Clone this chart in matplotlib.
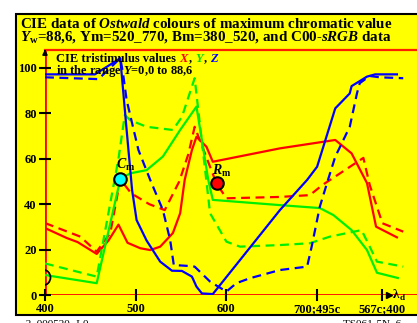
import matplotlib
matplotlib.use('Agg')
import matplotlib.pyplot as plt
from matplotlib.patches import Rectangle

W, H = 417, 323
plt.rcParams['mathtext.fontset'] = 'custom'
plt.rcParams['mathtext.rm'] = 'Liberation Serif:bold'
plt.rcParams['mathtext.it'] = 'Liberation Serif:italic:bold'
plt.rcParams['mathtext.bf'] = 'Liberation Serif:bold'
plt.rcParams['font.family'] = ['Liberation Serif', 'DejaVu Serif']
plt.rcParams['font.weight'] = 'bold'

# ---------------- data ----------------
x_tick_vals = [400, 500, 600, 700, 772]
x_tick_labels = ['400', '500', '600', '700;495c', '567c;400']
y_tick_vals = [0, 20, 40, 60, 80, 100]

X_solid_wl = [400, 424, 436, 457, 470, 481, 491, 505, 516, 527, 541, 549, 554, 562, 567, 578, 585, 659, 720, 738, 755, 765, 788]
X_solid_val = [29.5, 25.1, 23.3, 18.1, 24.0, 31.0, 23.0, 20.6, 19.8, 21.3, 27.3, 36.0, 50.7, 63.9, 69.7, 65.3, 58.7, 64.6, 68.3, 62.4, 49.3, 30.1, 25.4]

X_dash_wl = [400, 439, 457, 472, 483, 495, 515, 532, 548, 558, 565, 589, 600, 659, 692, 706, 751, 758, 772, 795]
X_dash_val = [31.7, 25.7, 19.1, 27.3, 51.0, 44.8, 40.0, 37.4, 50.0, 62.0, 74.1, 49.2, 42.6, 43.2, 44.0, 48.5, 60.4, 48.5, 31.6, 27.9]

Y_solid_wl = [400, 457, 483, 494, 512, 530, 549, 567, 580, 585, 659, 703, 718, 738, 755, 766, 789]
Y_solid_val = [8.8, 5.2, 51.0, 53.6, 55.0, 61.0, 72.7, 83.0, 50.7, 41.9, 39.6, 38.3, 35.2, 28.6, 19.8, 9.8, 7.5]

Y_dash_wl = [400, 457, 481, 488, 494, 512, 541, 551, 565, 582, 600, 615, 659, 692, 714, 749, 758, 766, 795]
Y_dash_val = [13.9, 8.1, 60.0, 79.3, 77.0, 74.1, 72.7, 78.5, 95.5, 36.0, 23.5, 21.3, 22.0, 22.8, 25.7, 28.6, 21.3, 14.7, 12.5]

Z_solid_wl = [400, 455, 483, 490, 496, 501, 512, 527, 540, 551, 562, 567, 573, 585, 659, 689, 700, 720, 736, 738, 755, 764, 788]
Z_solid_val = [97.2, 97.2, 104.3, 72.7, 46.3, 33.0, 24.0, 14.7, 10.7, 10.6, 8.1, 3.7, 0.7, 0.4, 37.4, 50.7, 56.5, 82.2, 88.8, 92.0, 96.2, 97.2, 97.2]

Z_dash_wl = [400, 459, 483, 486, 490, 503, 516, 530, 538, 542, 558, 565, 582, 600, 611, 626, 659, 689, 694, 703, 712, 720, 736, 744, 747, 758, 769, 795]
Z_dash_val = [95.9, 95.1, 104.3, 97.7, 85.9, 63.9, 50.7, 37.4, 24.2, 13.2, 12.8, 12.5, 5.9, 1.5, 5.2, 7.4, 11.0, 12.5, 21.3, 38.9, 50.7, 60.9, 74.1, 88.9, 93.3, 96.5, 95.9, 95.5]

Cm_point = (482.7, 51.0)
Rm_point = (589.3, 49.2)
E_point = (396.7, 8.1)

# ---------------- figure ----------------
fig = plt.figure(figsize=(W / 100, H / 100), dpi=100)
fig.patch.set_facecolor('white')
fig.add_artist(Rectangle((16 / W, 1 - 315 / H), (W + 10 - 16) / W, (315 - 14) / H,
                         transform=fig.transFigure, facecolor='#ffff00',
                         edgecolor='black', linewidth=1.5, zorder=0))

ax = fig.add_axes([45 / W, 1 - 295 / H, (W - 45) / W, (295 - 50) / H])
ax.patch.set_alpha(0)
xmax = 400 + 372 / 0.907
ymax = 245 / 2.27
ax.set_xlim(400, xmax)
ax.set_ylim(0, ymax)
for s in ax.spines.values():
    s.set_visible(False)

RED, GREEN, BLUE = '#ff0000', '#00ee00', '#0000ff'
lw = 1.6
dash = (4, 2.5)
ax.axhline(0, color=RED, lw=2, zorder=1)
ax.axvline(400, color=RED, lw=2, zorder=1)
ax.axhline(ymax, color='#ff2000', lw=1.6, zorder=1, clip_on=False)

ax.plot(X_dash_wl, X_dash_val, color=RED, lw=lw, dashes=dash)
ax.plot(X_solid_wl, X_solid_val, color=RED, lw=lw)
ax.plot(Y_dash_wl, Y_dash_val, color=GREEN, lw=lw, dashes=dash)
ax.plot(Y_solid_wl, Y_solid_val, color=GREEN, lw=lw)
ax.plot(Z_dash_wl, Z_dash_val, color=BLUE, lw=lw, dashes=dash)
ax.plot(Z_solid_wl, Z_solid_val, color=BLUE, lw=lw)

ax.plot(*Cm_point, 'o', ms=9, mfc='#00ffff', mec='black', mew=1.5, zorder=5)
ax.plot(*Rm_point, 'o', ms=9, mfc=RED, mec='black', mew=1.5, zorder=5)
ax.plot(*E_point, 'o', ms=11.5, mfc='none', mec='black', mew=1.3, zorder=5)

ax.text(478.5, 55.5, r'$C_\mathrm{m}$', fontsize=10, ha='left', va='baseline', zorder=6)
ax.text(584.5, 53.0, r'$R_\mathrm{m}$', fontsize=10, ha='left', va='baseline', zorder=6)

ax.set_xticks(x_tick_vals)
ax.set_xticklabels(x_tick_labels)
ax.set_yticks(y_tick_vals)
ax.tick_params(direction='inout', length=8, width=1.5, color='black', labelsize=9, pad=2)
for lab in ax.get_xticklabels() + ax.get_yticklabels():
    lab.set_fontweight('bold')

# axis arrows
ax.annotate('', xy=(400, ymax + 1.5), xytext=(400, ymax - 2), annotation_clip=False,
            arrowprops=dict(arrowstyle='-|>', color='black', lw=1.2, mutation_scale=7))
ax.plot([400 + (389 - 45) / 0.907], [0], marker='>', ms=5, color='black', clip_on=False, zorder=6)
fig.text(393 / W, 1 - 298.5 / H, 'λ', fontsize=9.5, ha='left', va='baseline', color='black')
fig.text(399.5 / W, 1 - 300.5 / H, 'd', fontsize=6.5, ha='left', va='baseline', color='black')

renderer = fig.canvas.get_renderer()


def width_of(s, size):
    p1 = fig.text(0, 0, s + '|', fontsize=size)
    p2 = fig.text(0, 0, '|', fontsize=size)
    w = p1.get_window_extent(renderer).width - p2.get_window_extent(renderer).width
    p1.remove()
    p2.remove()
    return w


def seq(xpx, ypx, pieces, size):
    x = xpx
    for s, col in pieces:
        fig.text(x / W, 1 - ypx / H, s, color=col, fontsize=size, ha='left', va='baseline')
        x += width_of(s, size)


def fit_size(s, target, base=10):
    return base * target / width_of(s, base)


t1 = r'CIE data of $Ostwald$ colours of maximum chromatic value'
t2 = r'$Y_\mathrm{w}$=88,6, Ym=520_770, Bm=380_520, and C00-$sRGB$ data'
s1 = fit_size(t1, 373)
fig.text(20 / W, 1 - 28 / H, t1, fontsize=s1, ha='left', va='baseline')
fig.text(20 / W, 1 - 41 / H, t2, fontsize=s1, ha='left', va='baseline')

leg1 = 'CIE tristimulus values '
ls = 9.0
seq(56, 61.5, [(leg1, 'black'), ('$X$', RED), (', ', 'black'), ('$Y$', '#00dd00'),
               (', ', 'black'), ('$Z$', BLUE)], ls)
seq(56, 74, [('in the range $Y$=0,0 to 88,6', 'black')], ls)

fig.text(22 / W, 1 - 319.5 / H, '-2, 000520 -L0', fontsize=8, ha='left', va='top', fontweight='normal')
fig.text(343 / W, 1 - 319.5 / H, 'TS061-5N, 6', fontsize=8, ha='left', va='top', fontweight='normal')

fig.savefig('out.png', dpi=100)
